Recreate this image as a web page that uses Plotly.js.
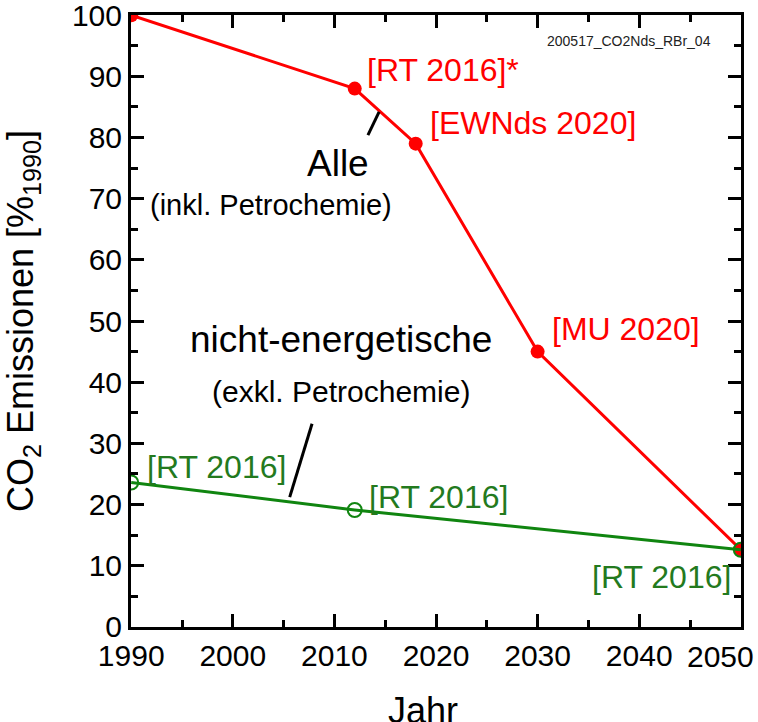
<!DOCTYPE html>
<html>
<head>
<meta charset="utf-8">
<script src="https://cdn.plot.ly/plotly-3.0.1.min.js"></script>
<style>html,body{margin:0;padding:0;background:#fff;}#chart{width:758px;height:722px;}</style>
</head>
<body>
<div id="chart"></div>
<script>
// Data
const yearsAlle = [1990, 2012, 2018, 2030, 2050];
const valuesAlle = [100, 88, 79, 45, 12.6];
const yearsNE = [1990, 2012, 2050];
const valuesNE = [23.6, 19.1, 12.6];
const xTickVals = [1990, 2000, 2010, 2020, 2030, 2040, 2050];
const xTickText = ['1990', '2000', '2010', '2020', '2030', '2040', ''];
const lastXTick = '2050';
const yTickVals = [0, 10, 20, 30, 40, 50, 60, 70, 80, 90, 100];

const RED = '#ff0000';
const GREEN = '#108510';
const GREEN_TXT = '#237a1e';
const FONT = 'Liberation Sans, Arial, sans-serif';

const traces = [
  {
    x: yearsAlle, y: valuesAlle, type: 'scatter', mode: 'lines+markers',
    line: {color: RED, width: 3},
    marker: {color: RED, size: 14, symbol: 'circle'},
    showlegend: false, hoverinfo: 'skip'
  },
  {
    x: yearsNE, y: valuesNE, type: 'scatter', mode: 'lines+markers',
    line: {color: GREEN, width: 3},
    marker: {color: GREEN, size: 14, symbol: 'circle-open', line: {color: GREEN, width: 2}},
    showlegend: false, hoverinfo: 'skip'
  }
];

function ann(text, x, y, size, color, xanchor) {
  return {text: text, x: x, y: y, xref: 'x', yref: 'y', showarrow: false,
    xanchor: xanchor || 'left', yanchor: 'middle',
    font: {family: FONT, size: size, color: color}};
}

const annotations = [
  ann('[RT 2016]*', 2013.0, 91.0, 32, RED),
  ann('[EWNds 2020]', 2019.2, 82.4, 32, RED),
  ann('[MU 2020]', 2031.2, 48.7, 32, RED),
  ann('Alle', 2010.4, 75.8, 37, '#000', 'center'),
  ann('(inkl. Petrochemie)', 2003.8, 69.0, 29, '#000', 'center'),
  ann('nicht-energetische', 2010.6, 46.9, 37, '#000', 'center'),
  ann('(exkl. Petrochemie)', 2010.6, 38.4, 30, '#000', 'center'),
  ann('[RT 2016]', 1991.4, 26.1, 32, GREEN_TXT),
  ann('[RT 2016]', 2013.2, 21.2, 32, GREEN_TXT),
  ann('[RT 2016]', 2049.2, 8.2, 32, GREEN_TXT, 'right'),
  ann('200517_CO2Nds_RBr_04', 2030.7, 95.8, 14, '#222'),
  {text: lastXTick, xref: 'x', yref: 'paper', x: xTickVals[xTickVals.length - 1], y: -0.0474, xshift: 15,
   showarrow: false, xanchor: 'right', yanchor: 'middle', font: {family: FONT, size: 30, color: '#000'}},
  {text: 'Jahr', xref: 'paper', yref: 'paper', x: 0.4787, y: -0.137, showarrow: false,
   xanchor: 'center', yanchor: 'middle', font: {family: FONT, size: 36, color: '#000'}}
];

const shapes = [
  {type: 'line', xref: 'x', yref: 'y', x0: 2013.3, y0: 80.4, x1: 2014.4, y1: 84.2, line: {color: '#000', width: 3}},
  {type: 'line', xref: 'x', yref: 'y', x0: 2005.6, y0: 21.2, x1: 2007.8, y1: 33.2, line: {color: '#000', width: 3}}
];

const layout = {
  width: 758, height: 722,
  margin: {l: 131, r: 17, t: 15, b: 95},
  paper_bgcolor: '#fff', plot_bgcolor: '#fff',
  font: {family: FONT, color: '#000'},
  xaxis: {
    range: [1989.98, 2050.02], tickvals: xTickVals, ticktext: xTickText,
    ticks: 'inside', ticklen: 13, tickwidth: 3, tickcolor: '#000',
    showline: true, linewidth: 3, linecolor: '#000', mirror: 'ticks',
    showgrid: false, zeroline: false, ticklabeloverflow: 'allow',
    minor: {dtick: 5, tick0: 1990, ticks: 'inside', ticklen: 7, tickwidth: 3, tickcolor: '#000', showgrid: false},
    tickfont: {family: FONT, size: 30, color: '#000'}
  },
  yaxis: {
    range: [-0.03, 100.03], tickvals: yTickVals,
    ticks: 'inside', ticklen: 13, tickwidth: 3, tickcolor: '#000',
    showline: true, linewidth: 3, linecolor: '#000', mirror: 'ticks',
    showgrid: false, zeroline: false, ticklabeloverflow: 'allow',
    minor: {dtick: 5, tick0: 0, ticks: 'inside', ticklen: 7, tickwidth: 3, tickcolor: '#000', showgrid: false},
    tickfont: {family: FONT, size: 30, color: '#000'},
    title: {text: 'CO<sub>2</sub> Emissionen [%<sub>1990</sub>]', font: {family: FONT, size: 36, color: '#000'}, standoff: 28}
  },
  annotations: annotations,
  shapes: shapes,
  showlegend: false
};

Plotly.newPlot('chart', traces, layout, {displayModeBar: false, staticPlot: true});
</script>
</body>
</html>
